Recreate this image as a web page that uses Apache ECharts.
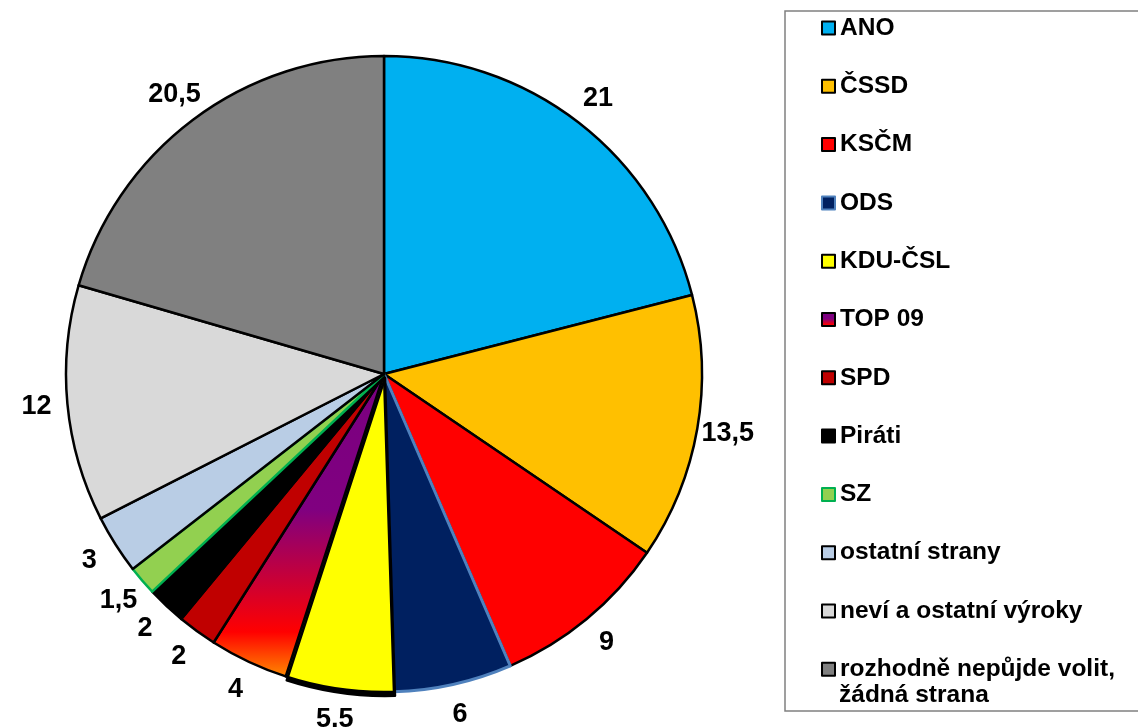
<!DOCTYPE html>
<html>
<head>
<meta charset="utf-8">
<script src="https://cdn.jsdelivr.net/npm/echarts@6/dist/echarts.min.js"></script>
<style>
  html, body { margin: 0; padding: 0; background: #fff; }
  #chart { width: 1138px; height: 727px; }
</style>
</head>
<body>
<div id="chart"></div>
<script>
// data
const names = ['ANO', 'ČSSD', 'KSČM', 'ODS', 'KDU-ČSL', 'TOP 09', 'SPD', 'Piráti', 'SZ',
  'ostatní strany', 'neví a ostatní výroky', 'rozhodně nepůjde volit, žádná strana'];
const values = [21, 13.5, 9, 6, 5.5, 4, 2, 2, 1.5, 3, 12, 20.5];

const top09 = new echarts.graphic.LinearGradient(0, 0, 0, 1, [
  { offset: 0, color: '#7a0080' },
  { offset: 0.45, color: '#800080' },
  { offset: 0.85, color: '#ff0000' },
  { offset: 1, color: '#ff8c00' }
]);
const colors = ['#00b0f0', '#ffc000', '#ff0000', '#002060', '#ffff00', top09, '#c00000',
  '#000000', '#92d050', '#b9cde5', '#d9d9d9', '#808080'];

const cx = 384, cy = 374, radius = 318, labelDist = 349;
const total = values.reduce((a, b) => a + b, 0);

const chart = echarts.init(document.getElementById('chart'));

chart.setOption({
  animation: false,
  legend: {
    orient: 'vertical',
    left: 821,
    top: 14.5,
    padding: 0,
    itemGap: 31.3,
    itemWidth: 13,
    itemHeight: 13,
    icon: 'rect',
    selectedMode: false,
    formatter: n => n === names[11] ? 'rozhodně nepůjde volit,' : n,
    textStyle: {
      fontFamily: 'Liberation Sans, Arial, sans-serif',
      fontWeight: 'bold',
      fontSize: 24.5,
      lineHeight: 27,
      color: '#000'
    },
    data: names
  },
  graphic: [
    {
      type: 'rect',
      shape: { x: 785, y: 11, width: 400, height: 700 },
      style: { fill: 'none', stroke: '#808080', lineWidth: 1.5 }
    },
    {
      type: 'text',
      x: 839, y: 695,
      style: {
        text: 'žádná strana',
        font: 'bold 24.5px "Liberation Sans", Arial, sans-serif',
        fill: '#000',
        verticalAlign: 'middle'
      }
    }
  ],
  series: [{
    type: 'pie',
    center: [cx, cy],
    radius: radius,
    startAngle: 90,
    clockwise: true,
    avoidLabelOverlap: false,
    label: {
      show: true,
      position: 'outside',
      formatter: p => String(p.value).replace('.', ','),
      fontFamily: 'Liberation Sans, Arial, sans-serif',
      fontWeight: 'bold',
      fontSize: 27,
      color: '#000'
    },
    labelLine: { show: false },
    labelLayout: function (params) {
      const i = params.dataIndex;
      let cum = 0;
      for (let k = 0; k < i; k++) cum += values[k];
      const a = (cum + values[i] / 2) / total * Math.PI * 2;
      return {
        x: cx + labelDist * Math.sin(a),
        y: cy - labelDist * Math.cos(a),
        align: 'center',
        verticalAlign: 'middle'
      };
    },
    itemStyle: { borderColor: '#000', borderWidth: 2.5 },
    emphasis: { disabled: true },
    data: names.map((n, i) => {
      const item = { name: n, value: values[i], itemStyle: { color: colors[i] } };
      if (n === 'ODS') { item.itemStyle.borderColor = '#4f81bd'; item.itemStyle.borderWidth = 3; }
      if (n === 'SZ') { item.itemStyle.borderColor = '#00b050'; }
      if (n === 'KDU-ČSL') {
        item.itemStyle.shadowColor = '#000';
        item.itemStyle.shadowOffsetY = 4;
        item.itemStyle.shadowOffsetX = 1;
        item.itemStyle.shadowBlur = 0;
      }
      return item;
    })
  }]
});
</script>
</body>
</html>
